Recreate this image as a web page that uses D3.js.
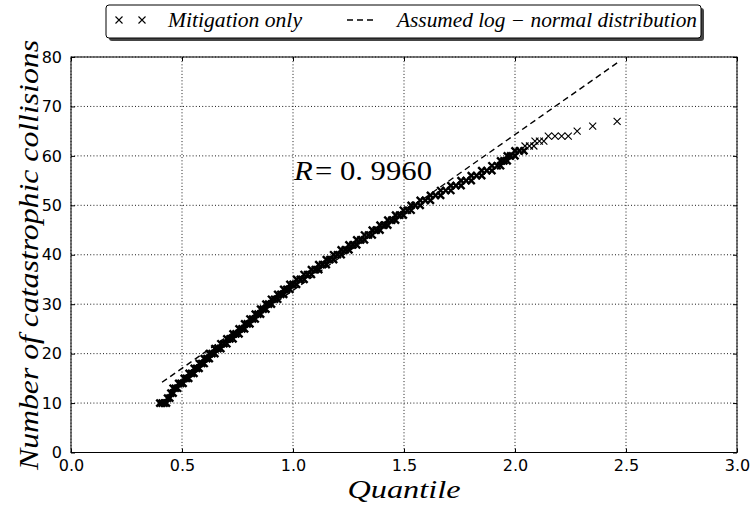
<!DOCTYPE html>
<html><head><meta charset="utf-8">
<script src="https://cdn.jsdelivr.net/npm/d3@7"></script>
<style>body{margin:0;background:#fff}svg{display:block}
.serif{font-family:"Liberation Serif","Times New Roman",Times,"DejaVu Serif",serif;}
</style>
</head><body>
<script>
// ---- data ----
const counts = [10,11,12,13,14,15,16,17,18,19,20,21,22,23,24,25,26,27,28,29,30,31,32,33,34,35,36,37,38,39,40,41,42,43,44,45,46,47,48,49,50,51,52,53,54,55,56,57,58,59,60,61,62,63,64,65,66,67];
const quantiles = [
 [0.40,0.41,0.42,0.43],[0.435,0.445],[0.45,0.46],[0.46,0.47,0.48],[0.485,0.495,0.505],
 [0.51,0.52,0.53],[0.532,0.543,0.554],[0.555,0.566,0.577],[0.578,0.589,0.60],[0.60,0.612,0.623],
 [0.623,0.635,0.648],[0.648,0.662,0.675],[0.675,0.689,0.702],[0.702,0.716,0.73],[0.73,0.743,0.757],
 [0.757,0.77,0.782],[0.782,0.794,0.806],[0.806,0.818,0.83],[0.83,0.842,0.854],[0.854,0.866,0.878],
 [0.878,0.89,0.903],[0.903,0.917,0.931],[0.931,0.945,0.958],[0.958,0.972,0.986],[0.986,1.0,1.016],
 [1.016,1.033,1.05],[1.05,1.066,1.083],[1.083,1.10,1.116],[1.116,1.133,1.15],[1.15,1.166,1.183],
 [1.183,1.20,1.217],[1.217,1.235,1.252],[1.252,1.27,1.287],[1.287,1.305,1.322],[1.322,1.34,1.357],
 [1.357,1.375,1.392],[1.392,1.41,1.427],[1.427,1.445,1.462],[1.462,1.48,1.497],[1.497,1.515,1.532],
 [1.532,1.55,1.573],[1.573,1.596,1.619],[1.619,1.642,1.665],[1.665,1.688,1.711],[1.711,1.734,1.757],
 [1.757,1.78,1.803],[1.803,1.827,1.85],[1.85,1.873,1.896],[1.896,1.92,1.935],[1.935,1.95,1.965],
 [1.965,1.98,2.0],[2.0,2.02,2.04],[2.045,2.065,2.085],[2.09,2.11,2.13],[2.15,2.18,2.21,2.24],
 [2.28],[2.35],[2.46]
];
const fitQuantile = [0.41, 2.466];
const fitCount = [14.2, 79.0];
const xTicks = [0.0,0.5,1.0,1.5,2.0,2.5,3.0];
const yTicks = [0,10,20,30,40,50,60,70,80];
const seriesNames = ["Mitigation only", "Assumed log \u2212 normal distribution"];
const rValue = "0. 9960";

// ---- chart ----
const W = 752, H = 510;
const svg = d3.select("body").append("svg").attr("width", W).attr("height", H);
const x = d3.scaleLinear().domain([0,3]).range([71, 737]);
const y = d3.scaleLinear().domain([0,80]).range([452.5, 57]);
const sans = "DejaVu Sans, sans-serif";

// grid
const grid = svg.append("g");
grid.selectAll(".gx").data(xTicks).join("line")
  .attr("x1", d => x(d)).attr("x2", d => x(d)).attr("y1", y(0)).attr("y2", y(80))
  .attr("stroke", "#000").attr("stroke-width", 0.9).attr("stroke-dasharray", "1,2.2");
grid.selectAll(".gy").data(yTicks).join("line")
  .attr("y1", d => y(d)).attr("y2", d => y(d)).attr("x1", x(0)).attr("x2", x(3))
  .attr("stroke", "#000").attr("stroke-width", 0.9).attr("stroke-dasharray", "1,2.2");

// axes (ticks inward on all sides)
const tickLen = 4;
svg.append("g").attr("transform", `translate(0,${y(0)})`)
  .call(d3.axisBottom(x).tickValues(xTicks).tickFormat(d3.format(".1f")).tickSizeInner(-tickLen).tickSizeOuter(0).tickPadding(7))
  .call(g => g.select(".domain").remove())
  .call(g => g.selectAll("text").attr("font-family", sans).attr("font-size", 16).attr("fill", "#000"));
svg.append("g").attr("transform", `translate(0,${y(80)})`)
  .call(d3.axisTop(x).tickValues(xTicks).tickFormat("").tickSizeInner(-tickLen).tickSizeOuter(0))
  .call(g => g.select(".domain").remove());
svg.append("g").attr("transform", `translate(${x(0)},0)`)
  .call(d3.axisLeft(y).tickValues(yTicks).tickSizeInner(-tickLen).tickSizeOuter(0).tickPadding(9))
  .call(g => g.select(".domain").remove())
  .call(g => g.selectAll("text").attr("font-family", sans).attr("font-size", 16).attr("fill", "#000"));
svg.append("g").attr("transform", `translate(${x(3)},0)`)
  .call(d3.axisRight(y).tickValues(yTicks).tickFormat("").tickSizeInner(-tickLen).tickSizeOuter(0))
  .call(g => g.select(".domain").remove());

// frame
svg.append("rect").attr("x", x(0)).attr("y", y(80)).attr("width", x(3)-x(0)).attr("height", y(0)-y(80))
  .attr("fill", "none").attr("stroke", "#000").attr("stroke-width", 1);

// fit line
svg.append("line")
  .attr("x1", x(fitQuantile[0])).attr("y1", y(fitCount[0]))
  .attr("x2", x(fitQuantile[1])).attr("y2", y(fitCount[1]))
  .attr("stroke", "#000").attr("stroke-width", 1.4).attr("stroke-dasharray", "6,4");

// points
const pts = [];
counts.forEach((c, i) => quantiles[i].forEach(q => pts.push([q, c])));
const ms = 3.5;
const xPath = (cx, cy) => `M${cx-ms},${cy-ms}L${cx+ms},${cy+ms}M${cx-ms},${cy+ms}L${cx+ms},${cy-ms}`;
svg.append("g").selectAll("path").data(pts).join("path")
  .attr("d", d => xPath(x(d[0]), y(d[1])))
  .attr("stroke", "#000").attr("stroke-width", d => d[1] >= 62 ? 1.1 : 2.4).attr("fill", "none");

// R annotation
const rt = svg.append("text").attr("class", "serif").attr("x", 294).attr("y", 180).attr("font-size", 28).attr("fill", "#000")
  .attr("textLength", 138).attr("lengthAdjust", "spacingAndGlyphs");
rt.append("tspan").attr("font-style", "italic").text("R");
rt.append("tspan").attr("dx", 2).text("= " + rValue);

// axis labels
svg.append("text").attr("class", "serif").attr("x", 404).attr("y", 498).attr("text-anchor", "middle")
  .attr("font-style", "italic").attr("font-size", 26).attr("fill", "#000")
  .attr("textLength", 113).attr("lengthAdjust", "spacingAndGlyphs").text("Quantile");
svg.append("text").attr("class", "serif").attr("transform", "translate(38,255) rotate(-90)").attr("text-anchor", "middle")
  .attr("font-style", "italic").attr("font-size", 27).attr("fill", "#000")
  .attr("textLength", 430).attr("lengthAdjust", "spacingAndGlyphs").text("Number of catastrophic collisions");

// legend
const lg = svg.append("g");
lg.append("rect").attr("x", 109).attr("y", 8).attr("width", 595).attr("height", 33).attr("rx", 3)
  .attr("fill", "#444");
lg.append("rect").attr("x", 106).attr("y", 5).attr("width", 595).attr("height", 33).attr("rx", 3)
  .attr("fill", "#fff").attr("stroke", "#000").attr("stroke-width", 1);
[119, 142].forEach(px => lg.append("path").attr("d", xPath(px, 20)).attr("stroke", "#000").attr("stroke-width", 1.1).attr("fill", "none"));
lg.append("text").attr("class", "serif").attr("x", 168).attr("y", 27).attr("font-style", "italic")
  .attr("font-size", 20).attr("fill", "#000").attr("textLength", 134).attr("lengthAdjust", "spacingAndGlyphs").text(seriesNames[0]);
lg.append("line").attr("x1", 347).attr("x2", 375).attr("y1", 20).attr("y2", 20)
  .attr("stroke", "#000").attr("stroke-width", 1.4).attr("stroke-dasharray", "6,4");
lg.append("text").attr("class", "serif").attr("x", 397).attr("y", 27).attr("font-style", "italic")
  .attr("font-size", 20).attr("fill", "#000").attr("textLength", 300).attr("lengthAdjust", "spacingAndGlyphs").text(seriesNames[1]);
</script>
</body></html>
